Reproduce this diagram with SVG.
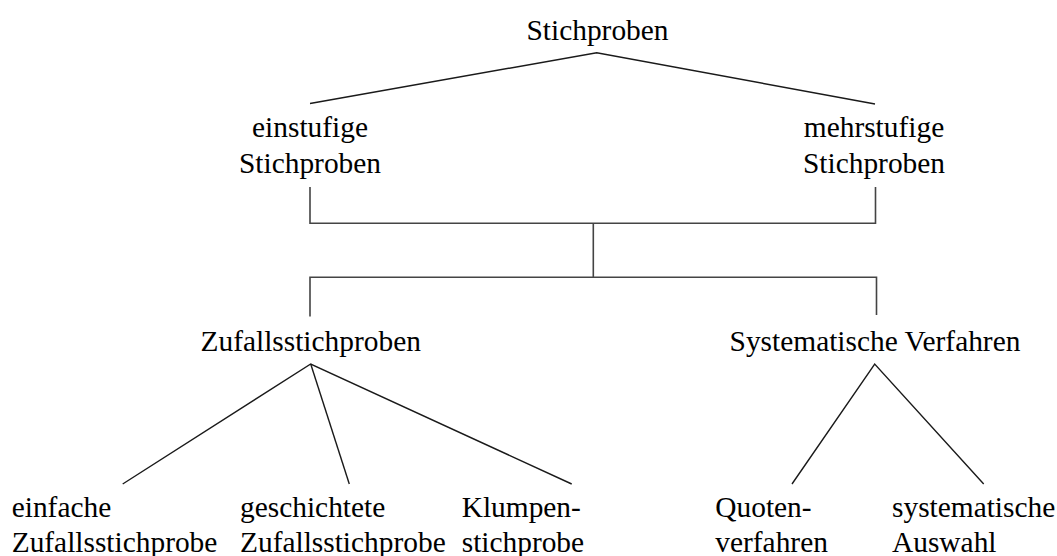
<svg xmlns="http://www.w3.org/2000/svg" width="1057" height="556" viewBox="0 0 1057 556">
<style>
text{font-family:"Liberation Serif","Times New Roman",serif;font-size:29.4px;fill:#000}
.m{text-anchor:middle}
.c{fill:none;stroke:#1a1a1a;stroke-width:1.4}
.b{fill:none;stroke:#444;stroke-width:1.6}
</style>
<rect width="1057" height="556" fill="#fff"/>
<g id="connectors">
<polyline class="c" points="310,103.5 596.7,52.7 875,104"/>
<polyline class="b" points="310,187 310,223.3 875.5,223.3 875.5,187"/>
<line class="b" x1="593.3" y1="223.3" x2="593.3" y2="277.3"/>
<polyline class="b" points="310,316.5 310,277.3 876.5,277.3 876.5,315"/>
<polyline class="c" points="122.7,484 310.7,364 571.7,484"/>
<line class="c" x1="310.7" y1="364" x2="349.3" y2="484"/>
<polyline class="c" points="792,484 874.7,364 983.7,484"/>
</g>
<g id="n-stichproben"><text class="m" x="597.5" y="40">Stichproben</text></g>
<g id="n-einstufig"><text class="m" x="310" y="137">einstufige</text><text class="m" x="310" y="172.7">Stichproben</text></g>
<g id="n-mehrstufig"><text class="m" x="874" y="137">mehrstufige</text><text class="m" x="874" y="172.7">Stichproben</text></g>
<g id="n-zufall"><text class="m" x="310.7" y="351">Zufallsstichproben</text></g>
<g id="n-systematisch"><text class="m" x="875" y="351">Systematische Verfahren</text></g>
<g id="n-einfach"><text x="11.7" y="516.7">einfache</text><text x="11.7" y="552.4">Zufallsstichprobe</text></g>
<g id="n-geschichtet"><text x="240" y="516.7">geschichtete</text><text x="240" y="552.4">Zufallsstichprobe</text></g>
<g id="n-klumpen"><text x="461.7" y="516.7">Klumpen-</text><text x="461.7" y="552.4">stichprobe</text></g>
<g id="n-quoten"><text x="715.3" y="516.7">Quoten-</text><text x="715.3" y="552.4">verfahren</text></g>
<g id="n-auswahl"><text x="892" y="516.7">systematische</text><text x="892" y="552.4">Auswahl</text></g>
</svg>
